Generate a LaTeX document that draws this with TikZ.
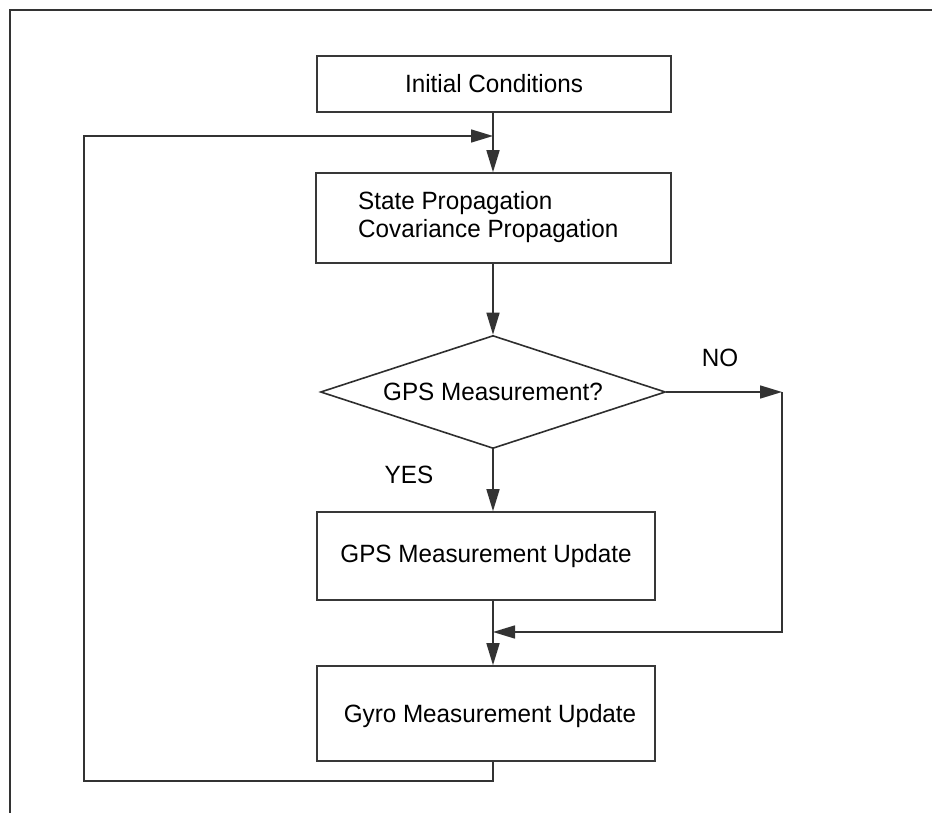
\documentclass[tikz,border=0pt]{standalone}
\usepackage{fontspec}
\setmainfont{Liberation Sans}[FakeStretch=0.97]
\usetikzlibrary{shapes.geometric,arrows.meta}
\begin{document}
\begin{tikzpicture}[x=1pt,y=-1pt,
  wire/.style={draw=black!80, line width=1.6pt},
  arr/.style={wire, -{Triangle[length=22pt,width=13pt]}},
  txt/.style={font=\fontsize{25}{28}\selectfont, text=black},
  box/.style={draw=black!78, line width=1.6pt, fill=white, rectangle, inner sep=0pt, txt},
  decision/.style={draw=black!82, line width=1.6pt, fill=white, diamond, aspect=3, inner sep=0pt, txt},
  lbl/.style={txt, inner sep=0pt}]
\useasboundingbox (0,0) rectangle (932,813);
\fill[white] (0,0) rectangle (932,813);
% outer frame
\draw[wire] (10,813) -- (10,10) -- (932,10);

% flowchart blocks
\node[box, minimum width=354pt, minimum height=56pt] (init) at (494,84) {Initial Conditions};
\node[box, minimum width=355pt, minimum height=90pt] (state) at (493.5,218) {};
\node[lbl, anchor=west, align=left] (statetext) at (358,217) {State Propagation\\Covariance Propagation};
\node[decision, minimum width=345pt, minimum height=113pt] (decide) at (493,392) {GPS Measurement?};
\node[box, minimum width=338pt, minimum height=88pt] (gps) at (486,556) {GPS Measurement Update};
\node[box, minimum width=338pt, minimum height=95pt] (gyro) at (486,713.5) {};
\node[lbl] (gyrotext) at (490,716) {Gyro Measurement Update};

% branch labels
\node[lbl] (no) at (720,358) {NO};
\node[lbl] (yes) at (409,475) {YES};

% routing points
\coordinate (noCorner) at (782,392);
\coordinate (merge) at (493,632);
\coordinate (loopLow) at (84,781);
\coordinate (loopTop) at (84,136);
\coordinate (loopIn) at (493,136);

% connectors
\draw[arr] (init.south -| decide.north) -- (state.north -| decide.north);
\draw[arr] (state.south -| decide.north) -- (decide.north);
\draw[arr] (decide.south) -- (gps.north -| decide.south);
\draw[arr] (decide.east) -- (noCorner);
\draw[arr] (noCorner) |- (merge);
\draw[arr] (gps.south -| decide.south) -- (gyro.north -| decide.south);
\draw[arr] (gyro.south -| decide.south) |- (loopLow) -- (loopTop) -- (loopIn);
\end{tikzpicture}
\end{document}
